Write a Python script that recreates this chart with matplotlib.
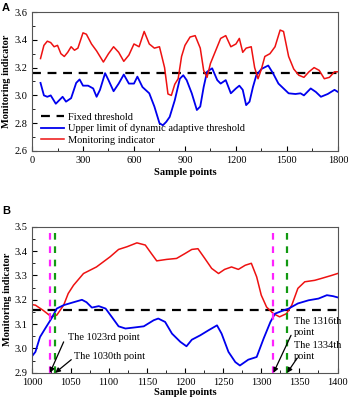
import matplotlib.pyplot as plt
from matplotlib.ticker import MultipleLocator

plt.rcParams["font.family"] = ["Liberation Serif", "DejaVu Serif"]
plt.rcParams["font.size"] = 7.5

FIXED_THRESHOLD = 3.16

# panel A: whole record
a_red_x = [50, 70, 90, 110, 130, 150, 170, 190, 210, 230, 250, 270, 300, 320, 350,
           380, 420, 450, 480, 510, 540, 570, 600, 630, 660, 690, 720, 750, 780,
           800, 820, 840, 860, 880, 900, 930, 960, 990, 1010, 1030, 1050, 1080,
           1110, 1140, 1170, 1200, 1220, 1240, 1260, 1290, 1310, 1330, 1350, 1370,
           1400, 1430, 1460, 1480, 1510, 1540, 1570, 1600, 1630, 1660, 1690, 1720,
           1750, 1780, 1800]
a_red_y = [3.265, 3.36, 3.39, 3.38, 3.35, 3.36, 3.30, 3.28, 3.31, 3.35, 3.325, 3.34,
           3.45, 3.44, 3.37, 3.32, 3.24, 3.30, 3.35, 3.31, 3.245, 3.29, 3.37, 3.35,
           3.46, 3.37, 3.34, 3.35, 3.20, 3.01, 3.00, 3.08, 3.12, 3.28, 3.36, 3.42,
           3.43, 3.34, 3.18, 3.13, 3.23, 3.32, 3.41, 3.43, 3.35, 3.37, 3.41, 3.31,
           3.34, 3.35, 3.20, 3.12, 3.19, 3.28, 3.30, 3.35, 3.47, 3.46, 3.28, 3.19,
           3.145, 3.13, 3.17, 3.20, 3.18, 3.12, 3.13, 3.17, 3.17]
a_blue_x = [50, 70, 90, 110, 140, 160, 180, 200, 230, 260, 280, 300, 330, 360, 380,
            400, 430, 450, 480, 510, 540, 570, 600, 620, 650, 690, 720, 750, 770,
            790, 810, 840, 870, 890, 910, 940, 970, 990, 1010, 1030, 1060, 1090,
            1110, 1140, 1170, 1200, 1220, 1240, 1260, 1280, 1300, 1320, 1350, 1390,
            1420, 1450, 1480, 1510, 1550, 1580, 1600, 1640, 1670, 1700, 1740, 1780,
            1800]
a_blue_y = [3.09, 3.00, 2.99, 3.00, 2.94, 2.965, 2.99, 2.955, 2.98, 3.09, 3.115, 3.07,
            3.07, 3.05, 2.99, 3.04, 3.16, 3.11, 3.03, 3.085, 3.15, 3.085, 3.085,
            3.135, 3.06, 3.015, 2.92, 2.80, 2.785, 2.81, 2.845, 2.965, 3.12, 3.145,
            3.11, 3.015, 2.895, 2.92, 3.06, 3.17, 3.195, 3.11, 3.085, 3.11, 3.015,
            3.05, 3.07, 3.04, 2.93, 2.955, 3.06, 3.145, 3.19, 3.215, 3.155, 3.085,
            3.05, 3.015, 3.01, 3.015, 3.00, 3.05, 3.025, 2.99, 3.01, 3.04, 3.025]

# panel B: zoom on 1000-1400
b_red_x = [1000, 1004, 1014, 1025, 1032, 1041, 1047, 1054, 1067, 1084, 1102, 1113,
           1124, 1137, 1148, 1156, 1163, 1176, 1189, 1200, 1209, 1217, 1226, 1235,
           1244, 1252, 1261, 1270, 1279, 1287, 1294, 1300, 1307, 1316, 1324, 1333,
           1340, 1348, 1357, 1370, 1379, 1392, 1400]
b_red_y = [3.18, 3.178, 3.157, 3.13, 3.137, 3.178, 3.226, 3.26, 3.308, 3.335, 3.377,
           3.407, 3.418, 3.434, 3.425, 3.39, 3.36, 3.366, 3.37, 3.39, 3.407, 3.41,
           3.37, 3.329, 3.308, 3.325, 3.335, 3.325, 3.342, 3.35, 3.294, 3.219, 3.17,
           3.143, 3.13, 3.143, 3.178, 3.247, 3.274, 3.28, 3.288, 3.30, 3.308]
b_blue_x = [1000, 1004, 1010, 1018, 1025, 1032, 1041, 1054, 1065, 1071, 1078, 1087,
            1096, 1104, 1113, 1122, 1133, 1146, 1159, 1165, 1174, 1183, 1194, 1202,
            1209, 1220, 1231, 1242, 1248, 1257, 1266, 1272, 1283, 1294, 1303, 1312,
            1318, 1327, 1336, 1348, 1362, 1375, 1386, 1394, 1400]
b_blue_y = [2.97, 2.986, 3.047, 3.088, 3.123, 3.164, 3.178, 3.19, 3.20, 3.19, 3.168,
            3.174, 3.164, 3.13, 3.091, 3.082, 3.086, 3.091, 3.116, 3.123, 3.109,
            3.061, 3.027, 3.009, 3.036, 3.054, 3.075, 3.095, 3.061, 2.986, 2.944,
            2.93, 2.954, 2.965, 3.04, 3.109, 3.143, 3.154, 3.164, 3.185, 3.198,
            3.205, 3.219, 3.215, 3.21]

alarm_points = [1023, 1316]
recover_points = [1030, 1334]
notes = ["The 1023rd point", "The 1030th point", "The 1316th\npoint", "The 1334th\npoint"]
note_targets = [1023, 1030, 1316, 1334]
note_text_xy = [(1047, 3.046), (1055, 2.968), (1343, 3.09), (1343, 2.99)]
note_tail_xy = [(1041, 3.027), (1051, 2.954), (1339, 3.054), (1347, 2.96)]


def style_axes(ax):
    ax.tick_params(which="both", direction="in", top=False, right=False)
    ax.tick_params(which="major", length=3.5)
    ax.tick_params(which="minor", length=2)
    for sp in ax.spines.values():
        sp.set_color("#555555")
        sp.set_linewidth(0.8)


fig = plt.figure(figsize=(3.48, 4.0), dpi=100)

ax1 = fig.add_axes([0.092, 0.6225, 0.879, 0.3475])
ax1.plot([0, 1800], [FIXED_THRESHOLD, FIXED_THRESHOLD], color="black",
         linestyle=(0, (4, 3)), linewidth=1.6, label="Fixed threshold")
ax1.plot(a_blue_x, a_blue_y, color="#0000ee", linewidth=1.3,
         label="Upper limit of dynamic adaptive threshold")
ax1.plot(a_red_x, a_red_y, color="#ee1111", linewidth=1.1, label="Monitoring indicator")
ax1.set_xlim(0, 1800)
ax1.set_ylim(2.6, 3.6)
ax1.xaxis.set_major_locator(MultipleLocator(300))
ax1.xaxis.set_minor_locator(MultipleLocator(150))
ax1.yaxis.set_major_locator(MultipleLocator(0.2))
ax1.yaxis.set_minor_locator(MultipleLocator(0.1))
ax1.yaxis.set_major_formatter(plt.FormatStrFormatter("%.1f"))
ax1.set_xlabel("Sample points", fontweight="bold", labelpad=2)
ax1.set_ylabel("Monitoring indicator", fontweight="bold", labelpad=2)
ax1.legend(loc="lower left", frameon=False, handlelength=2.2, handletextpad=0.35,
           labelspacing=0.2, borderaxespad=0.2, bbox_to_anchor=(0.01, 0.0))
style_axes(ax1)

ax2 = fig.add_axes([0.093, 0.068, 0.877, 0.365])
ax2.plot([1000, 1400], [FIXED_THRESHOLD, FIXED_THRESHOLD], color="black",
         linestyle=(0, (4, 3)), linewidth=1.6)
ax2.plot(b_red_x, b_red_y, color="#ee1111", linewidth=1.1)
ax2.plot(b_blue_x, b_blue_y, color="#0000ee", linewidth=1.3)
for xp in alarm_points:
    ax2.plot([xp, xp], [2.9, 3.48], color="#ff22ff", linestyle=(0, (3, 3)), linewidth=1.6)
for xp in recover_points:
    ax2.plot([xp, xp], [2.9, 3.48], color="#119911", linestyle=(0, (3, 3)), linewidth=1.6)
for txt, tgt, txy, tail in zip(notes, note_targets, note_text_xy, note_tail_xy):
    ax2.text(txy[0], txy[1], txt, ha="left", va="center", linespacing=1.3)
    ax2.annotate("", xy=(tgt, 2.9), xytext=tail,
                 arrowprops=dict(arrowstyle="-|>", color="black", lw=0.9,
                                 mutation_scale=7, shrinkA=0, shrinkB=0))
ax2.set_xlim(1000, 1400)
ax2.set_ylim(2.9, 3.5)
ax2.xaxis.set_major_locator(MultipleLocator(50))
ax2.xaxis.set_minor_locator(MultipleLocator(25))
ax2.yaxis.set_major_locator(MultipleLocator(0.1))
ax2.yaxis.set_minor_locator(MultipleLocator(0.05))
ax2.yaxis.set_major_formatter(plt.FormatStrFormatter("%.1f"))
ax2.set_xlabel("Sample points", fontweight="bold", labelpad=1)
ax2.set_ylabel("Monitoring indicator", fontweight="bold", labelpad=2)
style_axes(ax2)

fig.text(0.006, 0.993, "A", fontweight="bold", fontsize=8, va="top",
         family=["Liberation Sans", "DejaVu Sans"])
fig.text(0.006, 0.485, "B", fontweight="bold", fontsize=8, va="top",
         family=["Liberation Sans", "DejaVu Sans"])

fig.savefig("out.png", dpi=100)
